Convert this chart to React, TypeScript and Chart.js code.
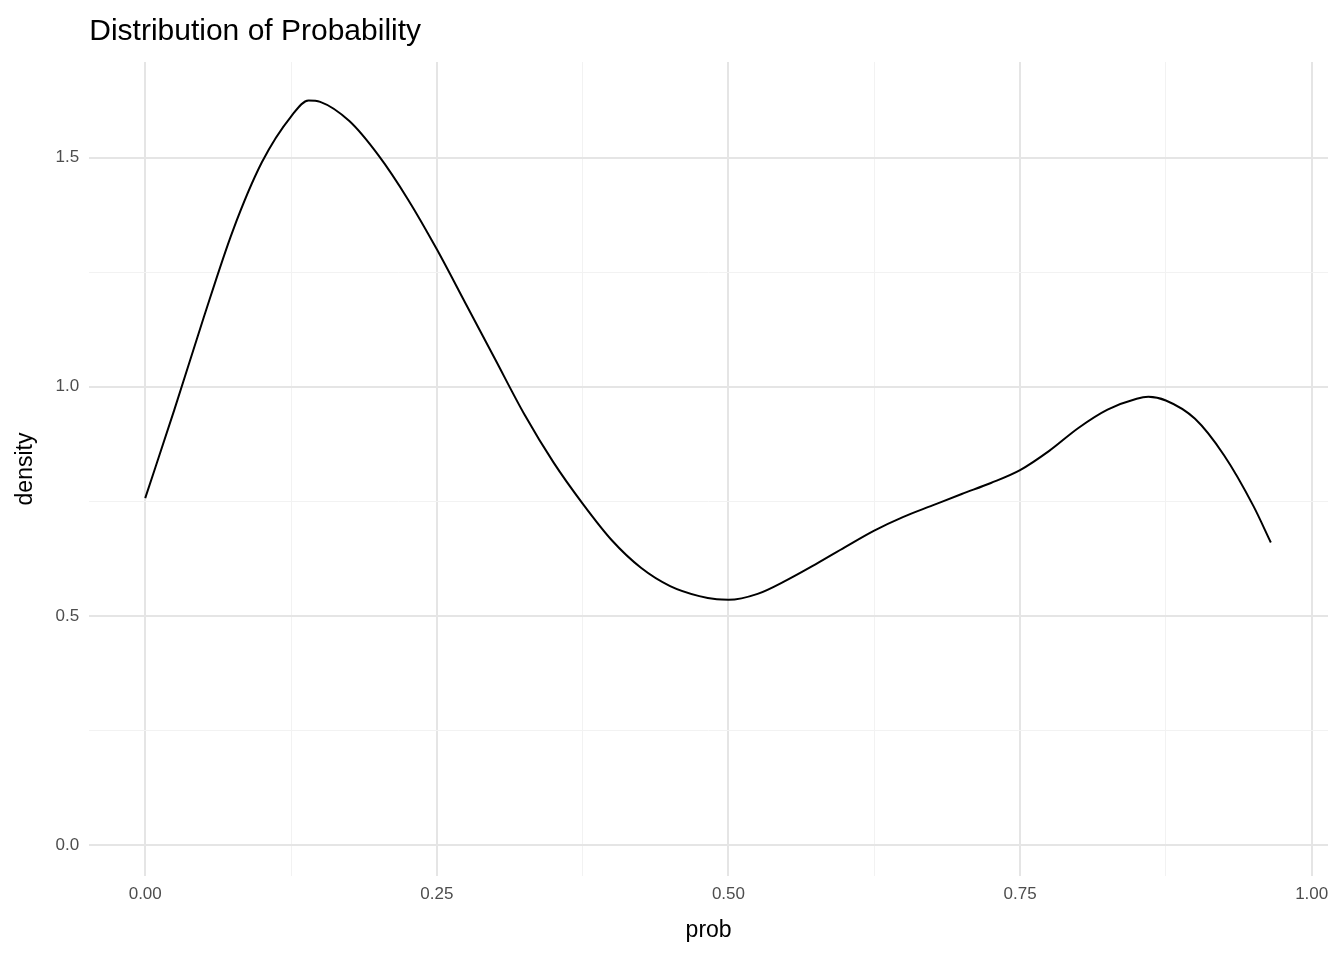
import { useEffect, useRef } from "react";
import Chart from "chart.js/auto";

const probX = [0, 0.025, 0.05, 0.075, 0.1, 0.125, 0.14, 0.15, 0.175, 0.2, 0.225, 0.25, 0.275, 0.3, 0.325, 0.35, 0.375, 0.4, 0.425, 0.45, 0.475, 0.49, 0.5, 0.525, 0.55, 0.575, 0.6, 0.625, 0.65, 0.675, 0.7, 0.725, 0.75, 0.775, 0.8, 0.825, 0.85, 0.86, 0.875, 0.9, 0.925, 0.95, 0.965];
const densityY = [0.757, 0.95, 1.15, 1.34, 1.49, 1.59, 1.625, 1.622, 1.58, 1.505, 1.41, 1.3, 1.18, 1.06, 0.94, 0.835, 0.745, 0.665, 0.605, 0.565, 0.543, 0.536, 0.535, 0.548, 0.578, 0.613, 0.65, 0.686, 0.716, 0.741, 0.766, 0.79, 0.818, 0.86, 0.91, 0.95, 0.974, 0.978, 0.97, 0.93, 0.85, 0.74, 0.66];
const xMajor = [0, 0.25, 0.5, 0.75, 1];
const yMajor = [0, 0.5, 1, 1.5];

const titlePlugin = {
  id: "leftTitle",
  afterDraw(chart: any) {
    const { ctx, chartArea } = chart;
    ctx.save();
    ctx.fillStyle = "#000";
    ctx.font = "30px 'Liberation Sans', Arial, sans-serif";
    ctx.textBaseline = "alphabetic";
    ctx.fillText("Distribution of Probability", chartArea.left, 40);
    ctx.restore();
  },
};

const isMajor = (v: number, list: number[]) => list.some((m) => Math.abs(m - v) < 1e-6);

export default function App() {
  const canvasRef = useRef<HTMLCanvasElement | null>(null);

  useEffect(() => {
    document.body.style.margin = "0";
    const canvas = canvasRef.current;
    if (!canvas) return;
    const font = { family: "'Liberation Sans', Arial, sans-serif", size: 17 };
    const chart = new Chart(canvas, {
      type: "line",
      data: {
        datasets: [
          {
            data: probX.map((x, i) => ({ x, y: densityY[i] })),
            borderColor: "#000",
            borderWidth: 2,
            pointRadius: 0,
            cubicInterpolationMode: "monotone",
          },
        ],
      },
      options: {
        animation: false,
        responsive: false,
        layout: { padding: { top: 62, right: 16, left: 8, bottom: 12 } },
        plugins: { legend: { display: false }, tooltip: { enabled: false } },
        scales: {
          x: {
            type: "linear",
            min: -0.048,
            max: 1.014,
            afterBuildTicks: (s: any) => {
              s.ticks = [0, 0.125, 0.25, 0.375, 0.5, 0.625, 0.75, 0.875, 1].map((v) => ({ value: v }));
            },
            ticks: {
              color: "#4d4d4d",
              font,
              padding: 8,
              callback: (v: any) => (isMajor(Number(v), xMajor) ? Number(v).toFixed(2) : ""),
            },
            grid: {
              color: (c: any) => (isMajor(c.tick.value, xMajor) ? "#e5e5e5" : "#f2f2f2"),
              lineWidth: (c: any) => (isMajor(c.tick.value, xMajor) ? 2 : 1),
              drawTicks: false,
            },
            border: { display: false },
            title: { display: true, text: "prob", color: "#000", font: { ...font, size: 23 }, padding: { top: 4 } },
          },
          y: {
            min: -0.068,
            max: 1.709,
            afterBuildTicks: (s: any) => {
              s.ticks = [0, 0.25, 0.5, 0.75, 1, 1.25, 1.5].map((v) => ({ value: v }));
            },
            ticks: {
              color: "#4d4d4d",
              font,
              padding: 10,
              callback: (v: any) => (isMajor(Number(v), yMajor) ? Number(v).toFixed(1) : ""),
            },
            grid: {
              color: (c: any) => (isMajor(c.tick.value, yMajor) ? "#e5e5e5" : "#f2f2f2"),
              lineWidth: (c: any) => (isMajor(c.tick.value, yMajor) ? 2 : 1),
              drawTicks: false,
            },
            border: { display: false },
            title: { display: true, text: "density", color: "#000", font: { ...font, size: 23 }, padding: { bottom: 6 } },
          },
        },
      },
      plugins: [titlePlugin],
    } as any);
    return () => chart.destroy();
  }, []);

  return <canvas ref={canvasRef} width={1344} height={960} style={{ display: "block" }} />;
}
